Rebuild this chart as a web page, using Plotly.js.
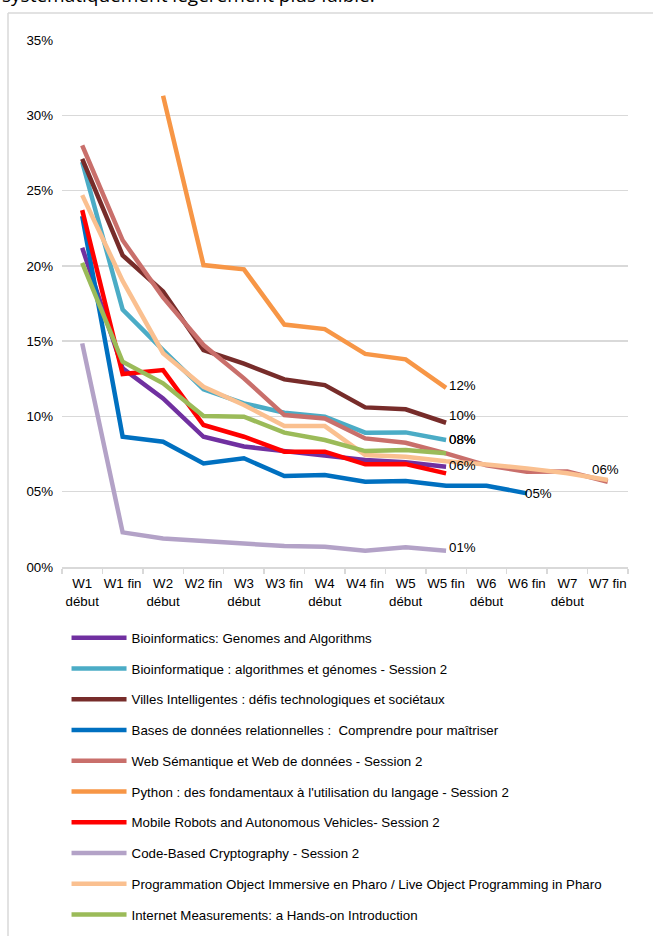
<!DOCTYPE html>
<html><head><meta charset="utf-8">
<script src="https://cdn.plot.ly/plotly-3.0.1.min.js"></script>
<style>html,body{margin:0;padding:0;background:#fff;overflow:hidden;} #chart{width:653px;height:936px;}</style>
</head><body><div id="chart"></div>
<script>
const categories = ["W1<br>début","W1 fin","W2<br>début","W2 fin","W3<br>début","W3 fin","W4<br>début","W4 fin","W5<br>début","W5 fin","W6<br>début","W6 fin","W7<br>début","W7 fin"];

const seriesNames = [
  "Bioinformatics: Genomes and Algorithms",
  "Bioinformatique : algorithmes et génomes - Session 2",
  "Villes Intelligentes : défis technologiques et sociétaux",
  "Bases de données relationnelles :  Comprendre pour maîtriser",
  "Web Sémantique et Web de données - Session 2",
  "Python : des fondamentaux à l'utilisation du langage - Session 2",
  "Mobile Robots and Autonomous Vehicles- Session 2",
  "Code-Based Cryptography - Session 2",
  "Programmation Object Immersive en Pharo / Live Object Programming in Pharo",
  "Internet Measurements: a Hands-on Introduction"
];

// values in percent
const bioinfoGenomes   = [21.2, 13.2, 11.2, 8.65, 8.0, 7.72, 7.44, 7.1, 6.95, 6.66, null, null, null, null];
const bioinfoSession2  = [26.9, 17.1, 14.4, 11.8, 10.87, 10.25, 9.98, 8.92, 8.94, 8.43, null, null, null, null];
const villes           = [27.1, 20.7, 18.3, 14.4, 13.5, 12.46, 12.08, 10.6, 10.47, 9.58, null, null, null, null];
const basesDonnees     = [23.3, 8.65, 8.32, 6.88, 7.22, 6.04, 6.11, 5.66, 5.71, 5.4, 5.4, 4.89, null, null];
const webSemantique    = [28.0, 21.7, 17.9, 14.74, 12.53, 10.09, 9.87, 8.54, 8.25, 7.55, 6.75, 6.33, 6.35, 5.66];
const python           = [null, null, 31.3, 20.05, 19.77, 16.1, 15.8, 14.15, 13.79, 11.9, null, null, null, null];
const mobileRobots     = [23.7, 12.82, 13.08, 9.43, 8.65, 7.66, 7.66, 6.82, 6.84, 6.22, null, null, null, null];
const codeCrypto       = [14.85, 2.3, 1.9, 1.75, 1.57, 1.39, 1.35, 1.08, 1.31, 1.08, null, null, null, null];
const pharo            = [24.7, 19.0, 14.2, 11.97, 10.76, 9.36, 9.36, 7.44, 7.32, 7.02, 6.8, 6.55, 6.22, 5.78];
const internetMeas     = [20.2, 13.63, 12.2, 10.03, 9.98, 8.92, 8.43, 7.7, 7.77, 7.55, null, null, null, null];

const yTickVals = [0, 5, 10, 15, 20, 25, 30, 35];
const yTickText = ["00%", "05%", "10%", "15%", "20%", "25%", "30%", "35%"];

// end-of-line data labels as printed
const endLabels = ["06%", "08%", "10%", "05%", "06%", "12%", null, "01%", null, "08%"];

const allValues = [bioinfoGenomes, bioinfoSession2, villes, basesDonnees, webSemantique, python, mobileRobots, codeCrypto, pharo, internetMeas];
const colors = ["#7030A0", "#4BACC6", "#772C2A", "#0070C0", "#C96F6B", "#F79646", "#FF0000", "#B3A2C7", "#FAC090", "#9BBB59"];
// label placement style: [xanchor, yanchor, xshift, yshift]
const labelStyle = [
  ["left","middle",1,1], ["left","middle",1,1], ["left","middle",1,7], ["left","middle",-4,0],
  ["center","bottom",-2,3], ["left","middle",1,2], null, ["left","middle",1,3], null, ["left","middle",1,14]
];

const font = "Liberation Sans, Arial, sans-serif";
const fs = 13.3;

const traces = allValues.map((vals, i) => ({
  type: "scatter", mode: "lines",
  x: categories, y: vals, name: seriesNames[i],
  legendgroup: "g" + i,
  line: {color: colors[i], width: 4.5},
  connectgaps: false,
  hoverinfo: "skip"
}));

const annotations = [];
allValues.forEach((vals, i) => {
  if (!endLabels[i]) return;
  let last = -1;
  vals.forEach((v, j) => { if (v !== null) last = j; });
  const st = labelStyle[i];
  annotations.push({
    x: categories[last], y: vals[last], xref: "x", yref: "y",
    text: endLabels[i], showarrow: false,
    xanchor: st[0], yanchor: st[1], xshift: st[2], yshift: st[3],
    font: {family: font, size: fs, color: "#000"}
  });
});

// cut-off sentence above the chart frame
annotations.push({
  xref: "paper", yref: "paper", x: -0.1095, y: 1.057, xanchor: "left", yanchor: "bottom",
  text: "systématiquement légèrement plus faible.", showarrow: false,
  font: {family: "Open Sans, sans-serif", size: 19, color: "#000"}
});

const layout = {
  width: 653, height: 936,
  margin: {l: 62, r: 25, t: 40, b: 369, autoexpand: false},
  paper_bgcolor: "#fff", plot_bgcolor: "#fff",
  showlegend: true,
  xaxis: {
    type: "category", range: [-0.5, 13.5], fixedrange: true, automargin: false,
    showgrid: false, zeroline: false,
    showline: true, linecolor: "#D9D9D9", linewidth: 1.5,
    ticks: "outside", tickson: "boundaries", ticklen: 5, tickcolor: "#D9D9D9", tickwidth: 1.5,
    ticklabelstandoff: 4,
    tickfont: {family: font, size: fs, color: "#000"}, tickangle: 0
  },
  yaxis: {
    range: [0, 35], fixedrange: true, automargin: false,
    tickvals: yTickVals, ticktext: yTickText,
    showgrid: true, gridcolor: "#D9D9D9", gridwidth: 1.5,
    zeroline: false, showline: false, ticks: "",
    ticklabelstandoff: 8,
    tickfont: {family: font, size: fs, color: "#000"}
  },
  legend: {
    orientation: "v", x: 0.008, y: -0.1055, xanchor: "left", yanchor: "top",
    traceorder: "grouped", tracegroupgap: 10.45, itemwidth: 55,
    font: {family: font, size: fs, color: "#000"},
    bgcolor: "rgba(0,0,0,0)"
  },
  annotations: annotations,
  shapes: [
    {type: "line", xref: "paper", yref: "paper", x0: -0.0954, x1: -0.0954, y0: 1.0512, y1: -0.71, line: {color: "#D9D9D9", width: 1.5}},
    {type: "line", xref: "paper", yref: "paper", x0: -0.0954, x1: 1.06, y0: 1.0512, y1: 1.0512, line: {color: "#D9D9D9", width: 1.5}}
  ]
};

Plotly.newPlot("chart", traces, layout, {displayModeBar: false, staticPlot: true});
</script></body></html>
